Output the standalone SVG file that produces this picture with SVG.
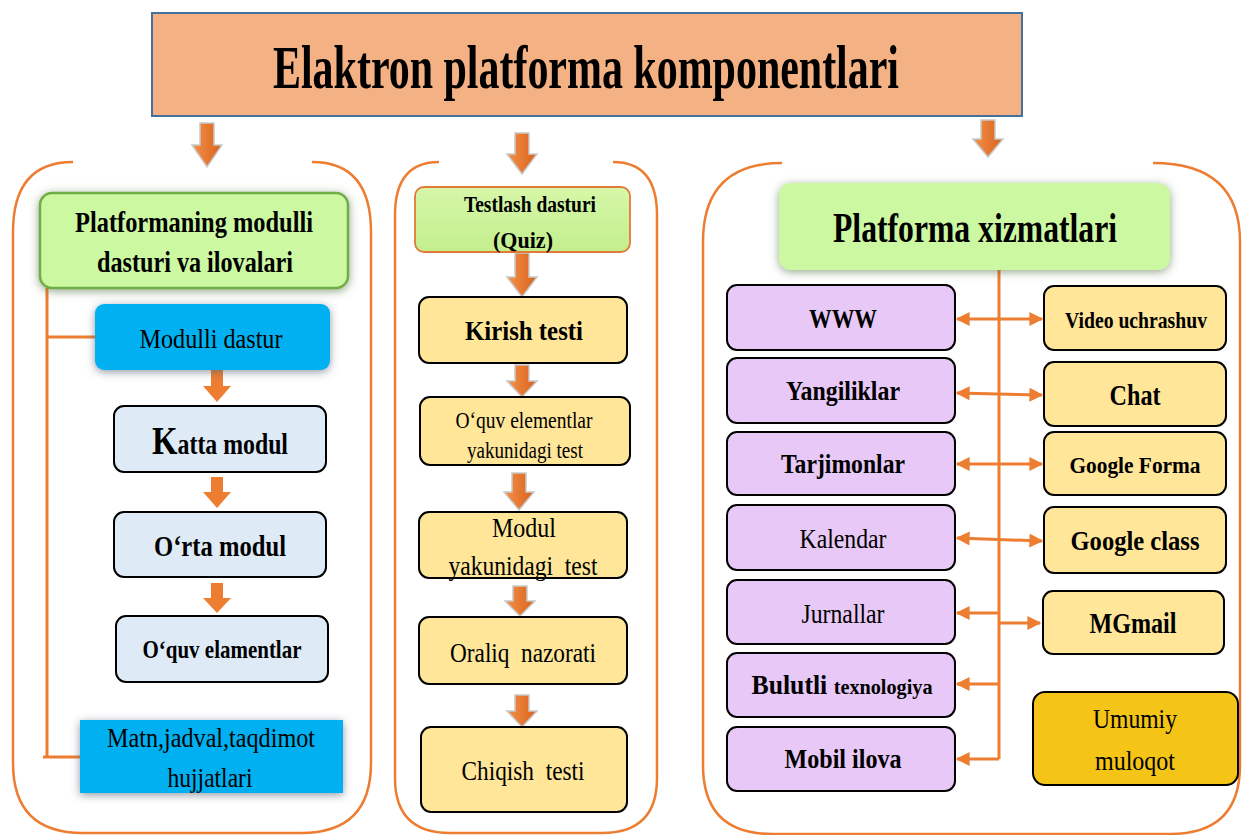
<svg xmlns="http://www.w3.org/2000/svg" width="1243" height="835" viewBox="0 0 1243 835">
<style>
text{font-family:"Liberation Serif","Times New Roman",serif;fill:#000;text-anchor:middle}
.b{font-weight:bold}
.panel{fill:none;stroke:#ED7D31;stroke-width:2.5}
.conn{stroke:#ED7D31;stroke-width:3;fill:none}
.barr{fill:url(#og);stroke:#C9C9C9;stroke-width:1.5}
.parr{fill:#ED7D31}
.lb{fill:#DEEBF7;stroke:#000;stroke-width:2}
.yb{fill:#FFE699;stroke:#000;stroke-width:2}
.pb{fill:#E8C8F6;stroke:#000;stroke-width:2}
.blue{fill:#00B0F0;filter:url(#sh)}
</style>
<defs>
<linearGradient id="og" x1="0" y1="0" x2="1" y2="0">
<stop offset="0" stop-color="#F4914A"/><stop offset="1" stop-color="#D8621C"/>
</linearGradient>
<linearGradient id="gg" x1="0" y1="0" x2="0" y2="1">
<stop offset="0" stop-color="#D6F7A8"/><stop offset="1" stop-color="#C3EE8D"/>
</linearGradient>
<filter id="sh" x="-20%" y="-30%" width="140%" height="160%">
<feDropShadow dx="0" dy="2" stdDeviation="4" flood-color="#556070" flood-opacity="0.65"/>
</filter>
<filter id="shg" x="-20%" y="-30%" width="140%" height="160%">
<feDropShadow dx="0" dy="2" stdDeviation="5" flood-color="#4E6A3A" flood-opacity="0.6"/>
</filter>
<marker id="ah" viewBox="0 0 10 10" refX="9" refY="5" markerWidth="15" markerHeight="14" markerUnits="userSpaceOnUse" orient="auto-start-reverse">
<path d="M0,0 L10,5 L0,10 z" fill="#ED7D31"/>
</marker>
</defs>
<rect width="1243" height="835" fill="#FFFFFF"/>

<g id="title">
<rect x="152" y="13" width="870" height="103" fill="#F4B183" stroke="#41719C" stroke-width="2"/>
<text x="586" y="88" font-size="62" class="b" textLength="626" lengthAdjust="spacingAndGlyphs">Elaktron platforma komponentlari</text>
</g>

<g id="panels">
<path class="panel" d="M73,162 Q13,162 13,232 L13,763 Q13,833 83,833 L301,833 Q371,833 371,763 L371,232 Q371,162 312,162"/>
<path class="panel" d="M439,162 Q395,162 395,215 L395,778 Q395,833 450,833 L602,833 Q657,833 657,778 L657,215 Q657,162 613,162"/>
<path class="panel" d="M782,163 Q703,163 703,242 L703,765 Q703,834 772,834 L1170,834 Q1240,834 1240,765 L1240,242 Q1240,163 1153,163"/>
</g>

<g id="connectors">
<polygon class="barr" points="200,123 214,123 214,145 222,145 207,167 192,145 200,145"/>
<polygon class="barr" points="515,133 529,133 529,154 537,154 522,174 507,154 515,154"/>
<polygon class="barr" points="981,120 995,120 995,139 1003,139 988,157 973,139 981,139"/>
<polygon class="barr" points="515,253 529,253 529,277 537,277 522,297 507,277 515,277"/>
<polygon class="barr" points="515,365 529,365 529,381 537,381 522,397 507,381 515,381"/>
<polygon class="barr" points="512,473 526,473 526,492 534,492 519,510 504,492 512,492"/>
<polygon class="barr" points="513,586 527,586 527,601 535,601 520,616 505,601 513,601"/>
<polygon class="barr" points="515,695 529,695 529,711 537,711 522,727 507,711 515,711"/>
<polygon class="parr" points="211,370 223,370 223,386 231,386 217,402 203,386 211,386"/>
<polygon class="parr" points="211,477 223,477 223,492 231,492 217,508 203,492 211,492"/>
<polygon class="parr" points="211,583 223,583 223,598 231,598 217,613 203,598 211,598"/>
<path class="conn" stroke-width="2.5" d="M47,288 L47,757 M47,337 L95,337 M43,757 L80,757"/>
<path class="conn" d="M999,270 L999,759"/>
<line class="conn" x1="957" y1="319" x2="1042" y2="319" marker-start="url(#ah)" marker-end="url(#ah)"/>
<line class="conn" x1="957" y1="393" x2="1042" y2="395" marker-start="url(#ah)" marker-end="url(#ah)"/>
<line class="conn" x1="957" y1="464" x2="1042" y2="464" marker-start="url(#ah)" marker-end="url(#ah)"/>
<line class="conn" x1="957" y1="538" x2="1042" y2="541" marker-start="url(#ah)" marker-end="url(#ah)"/>
<line class="conn" x1="999" y1="613" x2="957" y2="613" marker-end="url(#ah)"/>
<line class="conn" x1="999" y1="623" x2="1040" y2="623" marker-end="url(#ah)"/>
<line class="conn" x1="999" y1="684" x2="957" y2="684" marker-end="url(#ah)"/>
<line class="conn" x1="999" y1="759" x2="957" y2="759" marker-end="url(#ah)"/>
</g>

<g id="n-platformaning">
<rect x="40" y="193" width="308" height="95" rx="12" fill="#CDF8A2" stroke="#70AD47" stroke-width="2.5" filter="url(#shg)"/>
<text x="194" y="232" font-size="30" class="b" textLength="238" lengthAdjust="spacingAndGlyphs">Platformaning modulli</text>
<text x="195" y="272" font-size="30" class="b" textLength="196" lengthAdjust="spacingAndGlyphs">dasturi va ilovalari</text>
</g>
<g id="n-modulli">
<rect class="blue" x="95" y="304" width="235" height="66" rx="9"/>
<text x="211" y="348" font-size="28" textLength="143" lengthAdjust="spacingAndGlyphs">Modulli dastur</text>
</g>
<g id="n-katta">
<rect class="lb" x="114" y="406" width="212" height="66" rx="10"/>
<text x="220" y="454" font-size="29" class="b" textLength="136" lengthAdjust="spacingAndGlyphs"><tspan font-size="40">K</tspan>atta modul</text>
</g>
<g id="n-orta">
<rect class="lb" x="114" y="512" width="212" height="65" rx="10"/>
<text x="220" y="556" font-size="30" class="b" textLength="132" lengthAdjust="spacingAndGlyphs">O‘rta modul</text>
</g>
<g id="n-oquv">
<rect class="lb" x="116" y="616" width="212" height="66" rx="10"/>
<text x="222" y="658" font-size="25" class="b" textLength="159" lengthAdjust="spacingAndGlyphs">O‘quv elamentlar</text>
</g>
<g id="n-matn">
<rect class="blue" x="80" y="720" width="263" height="73"/>
<text x="211" y="747" font-size="28" textLength="208" lengthAdjust="spacingAndGlyphs">Matn,jadval,taqdimot</text>
<text x="210" y="787" font-size="28" textLength="85" lengthAdjust="spacingAndGlyphs">hujjatlari</text>
</g>

<g id="n-testlash">
<rect x="415" y="187" width="215" height="65" rx="9" fill="url(#gg)" stroke="#E07B39" stroke-width="1.8"/>
<text x="530" y="212" font-size="24" class="b" textLength="132" lengthAdjust="spacingAndGlyphs">Testlash dasturi</text>
<text x="523" y="248" font-size="24" class="b" textLength="60" lengthAdjust="spacingAndGlyphs">(Quiz)</text>
</g>
<g id="n-kirish">
<rect class="yb" x="419" y="297" width="208" height="66" rx="10"/>
<text x="524" y="340" font-size="28" class="b" textLength="118" lengthAdjust="spacingAndGlyphs">Kirish testi</text>
</g>
<g id="n-oquvtest">
<rect class="yb" x="420" y="397" width="210" height="68" rx="10"/>
<text x="524" y="428" font-size="23" textLength="137" lengthAdjust="spacingAndGlyphs">O‘quv elementlar</text>
<text x="525" y="458" font-size="23" textLength="116" lengthAdjust="spacingAndGlyphs">yakunidagi test</text>
</g>
<g id="n-modultest">
<rect class="yb" x="419" y="512" width="208" height="66" rx="10"/>
<text x="524" y="537" font-size="28" textLength="64" lengthAdjust="spacingAndGlyphs">Modul</text>
<text x="523" y="575" font-size="28" textLength="149" lengthAdjust="spacingAndGlyphs" xml:space="preserve">yakunidagi  test</text>
</g>
<g id="n-oraliq">
<rect class="yb" x="419" y="617" width="208" height="67" rx="10"/>
<text x="523" y="662" font-size="28" textLength="146" lengthAdjust="spacingAndGlyphs" xml:space="preserve">Oraliq  nazorati</text>
</g>
<g id="n-chiqish">
<rect class="yb" x="421" y="727" width="206" height="85" rx="10"/>
<text x="523" y="780" font-size="28" textLength="123" lengthAdjust="spacingAndGlyphs" xml:space="preserve">Chiqish  testi</text>
</g>

<g id="n-xizmatlari">
<rect x="779" y="183" width="391" height="87" rx="12" fill="#CDF8A2" filter="url(#shg)"/>
<text x="975" y="242" font-size="42" class="b" textLength="284" lengthAdjust="spacingAndGlyphs">Platforma xizmatlari</text>
</g>
<g id="n-www">
<rect class="pb" x="727" y="285" width="228" height="65" rx="10"/>
<text x="843" y="328" font-size="27" class="b" textLength="68" lengthAdjust="spacingAndGlyphs">WWW</text>
</g>
<g id="n-yangiliklar">
<rect class="pb" x="727" y="358" width="228" height="65" rx="10"/>
<text x="843" y="400" font-size="28" class="b" textLength="114" lengthAdjust="spacingAndGlyphs">Yangiliklar</text>
</g>
<g id="n-tarjimonlar">
<rect class="pb" x="727" y="432" width="228" height="63" rx="10"/>
<text x="843" y="473" font-size="28" class="b" textLength="124" lengthAdjust="spacingAndGlyphs">Tarjimonlar</text>
</g>
<g id="n-kalendar">
<rect class="pb" x="727" y="505" width="228" height="65" rx="10"/>
<text x="843" y="548" font-size="28" textLength="87" lengthAdjust="spacingAndGlyphs">Kalendar</text>
</g>
<g id="n-jurnallar">
<rect class="pb" x="727" y="580" width="228" height="64" rx="10"/>
<text x="843" y="623" font-size="28" textLength="83" lengthAdjust="spacingAndGlyphs">Jurnallar</text>
</g>
<g id="n-bulutli">
<rect class="pb" x="727" y="653" width="228" height="64" rx="10"/>
<text x="842" y="694" font-size="28" class="b" textLength="181" lengthAdjust="spacingAndGlyphs">Bulutli <tspan font-size="22">texnologiya</tspan></text>
</g>
<g id="n-mobil">
<rect class="pb" x="727" y="727" width="228" height="64" rx="10"/>
<text x="843" y="768" font-size="28" class="b" textLength="117" lengthAdjust="spacingAndGlyphs">Mobil ilova</text>
</g>
<g id="n-video">
<rect class="yb" x="1044" y="286" width="182" height="64" rx="10"/>
<text x="1136" y="328" font-size="23" class="b" textLength="142" lengthAdjust="spacingAndGlyphs">Video uchrashuv</text>
</g>
<g id="n-chat">
<rect class="yb" x="1044" y="362" width="182" height="64" rx="10"/>
<text x="1135" y="405" font-size="30" class="b" textLength="51" lengthAdjust="spacingAndGlyphs">Chat</text>
</g>
<g id="n-gforma">
<rect class="yb" x="1044" y="432" width="182" height="63" rx="10"/>
<text x="1135" y="473" font-size="24" class="b" textLength="131" lengthAdjust="spacingAndGlyphs">Google Forma</text>
</g>
<g id="n-gclass">
<rect class="yb" x="1044" y="507" width="182" height="66" rx="10"/>
<text x="1135" y="550" font-size="28" class="b" textLength="129" lengthAdjust="spacingAndGlyphs">Google class</text>
</g>
<g id="n-mgmail">
<rect class="yb" x="1043" y="591" width="181" height="63" rx="10"/>
<text x="1133" y="633" font-size="29" class="b" textLength="87" lengthAdjust="spacingAndGlyphs">MGmail</text>
</g>
<g id="n-umumiy">
<rect x="1033" y="692" width="205" height="93" rx="12" fill="#F4C416" stroke="#000" stroke-width="2"/>
<text x="1135" y="728" font-size="28" textLength="84" lengthAdjust="spacingAndGlyphs">Umumiy</text>
<text x="1135" y="770" font-size="28" textLength="80" lengthAdjust="spacingAndGlyphs">muloqot</text>
</g>
</svg>
